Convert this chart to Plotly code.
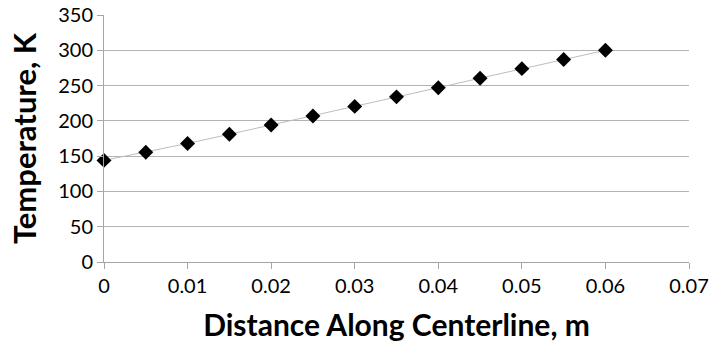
import plotly.graph_objects as go

distance = [0, 0.005, 0.01, 0.015, 0.02, 0.025, 0.03, 0.035, 0.04, 0.045, 0.05, 0.055, 0.06]
temperature = [144, 155.5, 168, 181, 194, 207, 220.5, 234, 247, 260.5, 274, 287, 300]
x_ticks = [0, 0.01, 0.02, 0.03, 0.04, 0.05, 0.06, 0.07]
x_tick_labels = ["0", "0.01", "0.02", "0.03", "0.04", "0.05", "0.06", "0.07"]
y_ticks = [0, 50, 100, 150, 200, 250, 300, 350]

fig = go.Figure()
fig.add_trace(go.Scatter(
    x=distance, y=temperature, mode="lines+markers",
    line=dict(color="#bdbdbd", width=1),
    marker=dict(symbol="diamond", size=11.5, color="black"),
    showlegend=False, cliponaxis=False,
))

font_family = "Lato, 'Open Sans', sans-serif"
fig.update_layout(
    width=713, height=356,
    margin=dict(l=104, r=24, t=15, b=94, autoexpand=False),
    plot_bgcolor="white", paper_bgcolor="white",
    font=dict(family=font_family, color="black", size=20),
    xaxis=dict(
        range=[0, 0.07], tickvals=x_ticks, ticktext=x_tick_labels,
        showgrid=False, zeroline=False, automargin=False,
        showline=True, linecolor="#a6a6a6", linewidth=1,
        ticks="outside", ticklen=6, tickcolor="#a6a6a6",
        tickfont=dict(size=20),
        title=dict(text="<b>Distance Along Centerline, m</b>", font=dict(size=30), standoff=18),
    ),
    yaxis=dict(
        range=[0, 350], tickvals=y_ticks,
        showgrid=True, gridcolor="#b3b3b3", gridwidth=1, zeroline=False, automargin=False,
        showline=True, linecolor="#a6a6a6", linewidth=1,
        ticks="outside", ticklen=6, tickcolor="#a6a6a6",
        tickfont=dict(size=20),
        title=dict(text="<b>Temperature, K</b>", font=dict(size=31), standoff=12),
    ),
)

fig.write_html("out.html")
